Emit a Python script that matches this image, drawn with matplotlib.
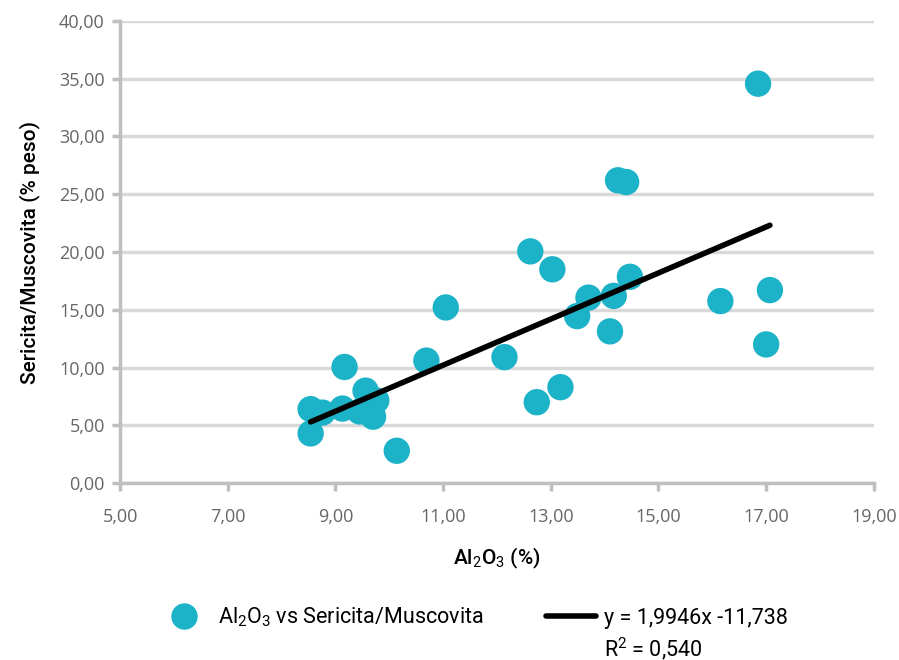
import numpy as np
import matplotlib
matplotlib.use("Agg")
import matplotlib.pyplot as plt
from matplotlib.lines import Line2D
from matplotlib.ticker import FuncFormatter

plt.rcParams['font.family'] = ['Open Sans', 'DejaVu Sans']
plt.rcParams['mathtext.fontset'] = 'custom'
plt.rcParams['mathtext.rm'] = 'Roboto'
plt.rcParams['mathtext.it'] = 'Roboto'
plt.rcParams['mathtext.bf'] = 'Roboto:bold'

# Al2O3 (%) vs Sericita/Muscovita (% peso)
al2o3 = [16.85, 14.25, 14.40, 12.62, 13.03, 14.47, 13.70, 14.17, 13.49, 14.10,
         16.15, 17.07, 17.00, 11.05, 12.14, 10.69, 13.18, 12.74, 10.14, 9.17,
         8.54, 8.54, 8.76, 9.13, 9.45, 9.56, 9.76, 9.70]
sericita = [34.56, 26.20, 26.05, 20.05, 18.50, 17.85, 16.05, 16.20, 14.45, 13.13,
            15.75, 16.70, 12.00, 15.20, 10.90, 10.60, 8.30, 7.00, 2.80, 10.05,
            6.40, 4.30, 6.10, 6.45, 6.20, 8.00, 7.15, 5.75]

slope = 1.9946
intercept = -11.738
r2 = 0.540

xticks = [5, 7, 9, 11, 13, 15, 17, 19]
yticks = [0, 5, 10, 15, 20, 25, 30, 35, 40]

dot_color = '#1CB2C8'
grid_color = '#D9D9D9'
spine_color = '#BFBFBF'
label_font = ['Roboto', 'DejaVu Sans']

fig = plt.figure(figsize=(8.99, 6.60), dpi=100)
ax = fig.add_axes([0.1335, 0.268, 0.8385, 0.7005])

ax.scatter(al2o3, sericita, s=360, color=dot_color, edgecolors='none', zorder=3)

xfit = np.array([min(al2o3), max(al2o3)])
ax.plot(xfit, slope * xfit + intercept, color='black', lw=4, solid_capstyle='round', zorder=4)

ax.set_xlim(5, 19)
ax.set_ylim(0, 40)
ax.set_xticks(xticks)
ax.set_yticks(yticks)
fmt = FuncFormatter(lambda v, p: "{:.2f}".format(v).replace('.', ','))
ax.xaxis.set_major_formatter(fmt)
ax.yaxis.set_major_formatter(fmt)

ax.grid(axis='y', color=grid_color, lw=2.5, zorder=0)
ax.set_axisbelow(True)
for s in ['top', 'right']:
    ax.spines[s].set_visible(False)
for s in ['left', 'bottom']:
    ax.spines[s].set_color(spine_color)
    ax.spines[s].set_linewidth(2.5)
ax.tick_params(axis='both', colors=spine_color, width=2.5, length=6,
               labelcolor='#666666', labelsize=13)
ax.tick_params(axis='x', pad=12)
ax.tick_params(axis='y', pad=5)

ax.set_xlabel(r"Al$_2$O$_3$ (%)", fontsize=15, family=label_font, fontweight='medium', labelpad=14)
ax.set_ylabel("Sericita/Muscovita (% peso)", fontsize=15, family=label_font,
              fontweight='medium', labelpad=14)

blank = Line2D([], [], alpha=0)
handles = [Line2D([], [], marker='o', ls='none', color=dot_color, markersize=19, markeredgewidth=0),
           blank,
           Line2D([], [], color='black', lw=4, solid_capstyle='round'),
           blank]
labels = [r"Al$_2$O$_3$ vs Sericita/Muscovita", "",
          "y = {:.4f}x -{:.3f}".format(slope, -intercept).replace('.', ','),
          "R$^2$ = {:.3f}".format(r2).replace('.', ',')]
fig.legend(handles, labels, ncol=2, loc='center', bbox_to_anchor=(0.527, 0.04),
           frameon=False, prop={'family': label_font, 'size': 15.5},
           columnspacing=2.9, handlelength=2.3, handletextpad=0.4, labelspacing=0.3)

fig.savefig("out.png", dpi=100)
